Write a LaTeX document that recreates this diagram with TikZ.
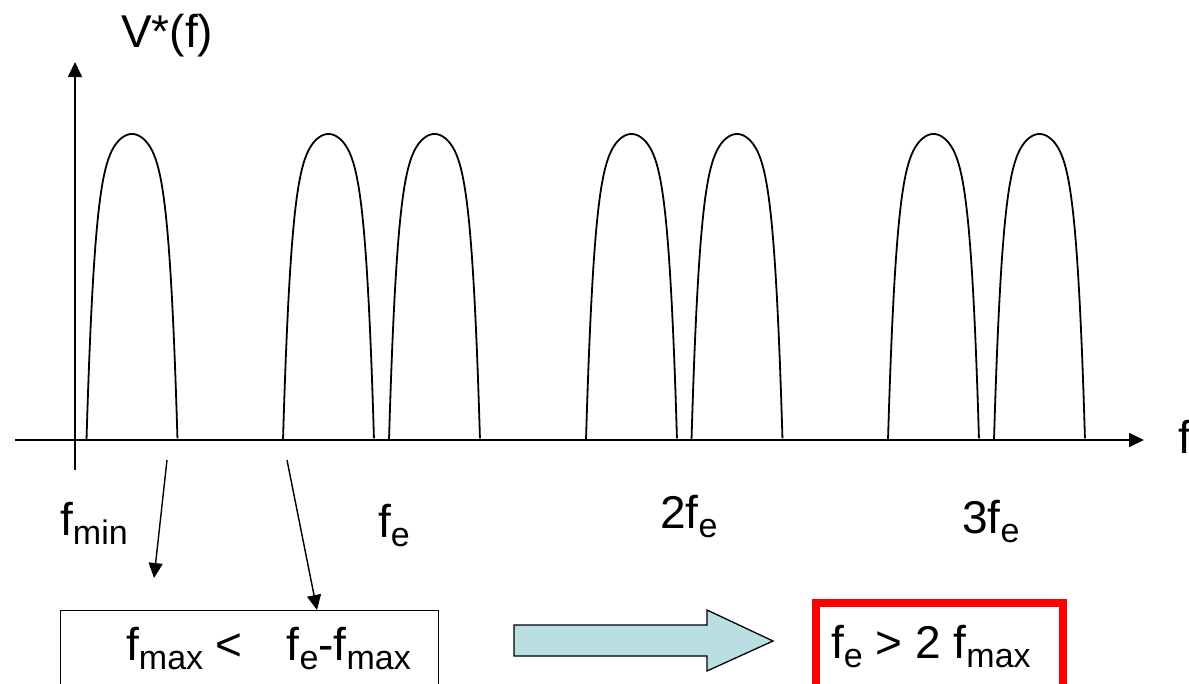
\documentclass[tikz,border=0pt]{standalone}
\usepackage{fontspec}
\setmainfont{Liberation Sans}
\usetikzlibrary{arrows.meta,calc}
\definecolor{arrowfill}{RGB}{185,223,227}
\newcommand{\lowsub}[1]{\raisebox{-9pt}{\fontsize{34}{34}\selectfont #1}}
\tikzset{
  ax/.style={line width=1.7pt, -{Triangle[length=15pt,width=14pt]}},
  hump/.style={line width=1.8pt},
  ptr/.style={line width=1.4pt, -{Triangle[length=15pt,width=14pt]}},
  lbl/.style={inner sep=0pt, anchor=base west, font=\fontsize{46}{50}\selectfont},
}
\begin{document}
\begin{tikzpicture}[x=1pt,y=-1pt]
\useasboundingbox (0,0) rectangle (1189,683);
\clip (0,0) rectangle (1189,683);
\fill[white] (0,0) rectangle (1189,683);
% axes
\coordinate (xs) at (15,440);
\coordinate (xe) at (1144,440);
\coordinate (ys) at (75,470);
\coordinate (ye) at (75,62);
\draw[ax] (xs) -- (xe);
\draw[ax] (ys) -- (ye);
\node[lbl] (vlab) at (121,47) {V*(f)};
\node[lbl] (flab) at (1178,453) {f};
% humps
\foreach \c in {132,328.5,434.5,631.5,737,933.5,1039.5}{
  \draw[hump] plot[domain=-1:1, samples=101, smooth]
    ({\c + 45.5*\x}, {440 - 306*(1 - 0.25*(\x*\x) - 0.75*(\x*\x)^3)});
}
% frequency labels
\node[lbl] (fmin) at (60,535) {f\lowsub{min}};
\node[lbl] (fe) at (378,537) {f\lowsub{e}};
\node[lbl] (fe2) at (660,528) {2f\lowsub{e}};
\node[lbl] (fe3) at (962,533) {3f\lowsub{e}};
% condition box
\node[draw, line width=1.4pt, anchor=north west, minimum width=378pt, minimum height=120pt, inner sep=0pt] (box1) at (60,610) {};
\node[lbl] (cond) at (126,660) {f\lowsub{max} <\hspace{44pt}f\lowsub{e}-f\lowsub{max}};
% pointer arrows
\coordinate (a1s) at (167,460);
\coordinate (a1e) at (154,578);
\coordinate (a2s) at (287,460);
\coordinate (a2e) at ($(box1.north west)+(257,0)$);
\draw[ptr] (a1s) -- (a1e);
\draw[ptr] (a2s) -- (a2e);
% big arrow
\draw[line width=1.3pt, fill=arrowfill] (514,625) -- (707,625) -- (707,610) -- (773,641) -- (707,671) -- (707,656) -- (514,656) -- cycle;
% result box
\node[draw=red, line width=8pt, anchor=north west, minimum width=247pt, minimum height=140pt, inner sep=0pt] (res) at (812,599) {};
\node[lbl] (restext) at (831,658) {f\lowsub{e} > 2 f\lowsub{max}};
\end{tikzpicture}
\end{document}
